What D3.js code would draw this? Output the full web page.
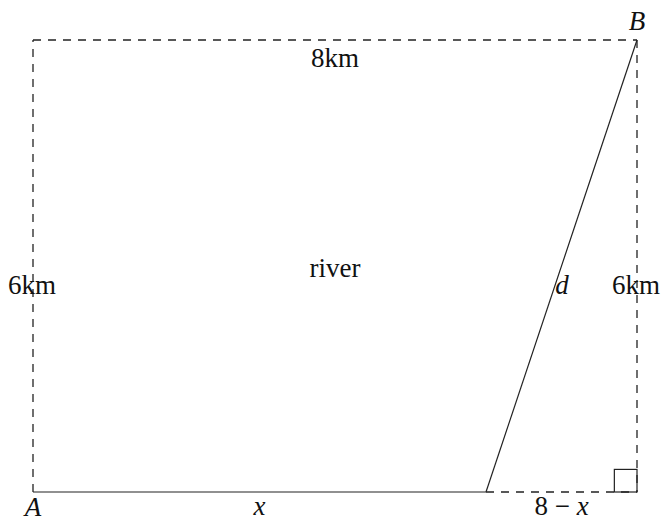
<!DOCTYPE html>
<html>
<head>
<meta charset="utf-8">
<script src="https://cdn.jsdelivr.net/npm/d3@7"></script>
<style>
  body { margin: 0; background: #fff; }
</style>
</head>
<body>
<div id="chart"></div>
<script>
// river geometry in km
const riverWidth = 8;
const riverHeight = 6;
const crossX = 6;          // where the swimmer lands on the far bank (x)
const squareSize = 0.3;    // right-angle marker

const sideLabels = ["8km", "6km", "6km", "river"];
const pointLabels = ["A", "B"];
const segLabels = ["x", "d", "8 − x"];

const width = 661, height = 523;
const serif = "'Liberation Serif', 'DejaVu Serif', 'Times New Roman', Times, serif";

const svg = d3.select("#chart").append("svg")
    .attr("width", width)
    .attr("height", height);

const xScale = d3.scaleLinear().domain([0, riverWidth]).range([33, 637]);
const yScale = d3.scaleLinear().domain([0, riverHeight]).range([492, 40]);

const stroke = "#222";
const dash = "8,7";

// dashed borders: left, top, right, bottom remainder
const dashed = [
    [[0, 0], [0, riverHeight]],
    [[0, riverHeight], [riverWidth, riverHeight]],
    [[riverWidth, riverHeight], [riverWidth, 0]],
    [[crossX, 0], [riverWidth, 0]]
];
const solid = [
    [[0, 0], [crossX, 0]],
    [[crossX, 0], [riverWidth, riverHeight]]
];

const line = d3.line().x(d => xScale(d[0])).y(d => yScale(d[1]));

svg.selectAll(".dashed").data(dashed).join("path")
    .attr("class", "dashed")
    .attr("d", line)
    .attr("fill", "none")
    .attr("stroke", "#222")
    .attr("stroke-width", 1.3)
    .attr("stroke-dasharray", dash);

svg.selectAll(".solid").data(solid).join("path")
    .attr("class", "solid")
    .attr("d", line)
    .attr("fill", "none")
    .attr("stroke", stroke)
    .attr("stroke-width", 1.2);

// right angle square
svg.append("rect")
    .attr("x", xScale(riverWidth - squareSize))
    .attr("y", yScale(squareSize))
    .attr("width", xScale(riverWidth) - xScale(riverWidth - squareSize))
    .attr("height", yScale(0) - yScale(squareSize))
    .attr("fill", "none")
    .attr("stroke", stroke)
    .attr("stroke-width", 1.2);

const fs = 27;

function label(txt, x, y, italic) {
    return svg.append("text")
        .attr("x", x).attr("y", y)
        .attr("text-anchor", "middle")
        .attr("font-family", serif)
        .attr("font-size", fs)
        .attr("fill", "#111")
        .attr("font-style", italic ? "italic" : "normal")
        .text(txt);
}

// side labels
label(sideLabels[0], xScale(riverWidth / 2), 67);
label(sideLabels[1], xScale(0) - 1, 294);
label(sideLabels[2], xScale(riverWidth) - 1, 294);
label(sideLabels[3], xScale(riverWidth / 2), 277);

// points
label(pointLabels[0], xScale(0), 516, true);
label(pointLabels[1], xScale(riverWidth), 30, true);

// segments
label(segLabels[0], xScale(crossX / 2), 515, true);
label(segLabels[1], 562, 294, true);

const t = label("", xScale((crossX + riverWidth) / 2), 515, false);
t.append("tspan").text("8 − ");
t.append("tspan").attr("font-style", "italic").text(segLabels[2].slice(-1));
</script>
</body>
</html>
